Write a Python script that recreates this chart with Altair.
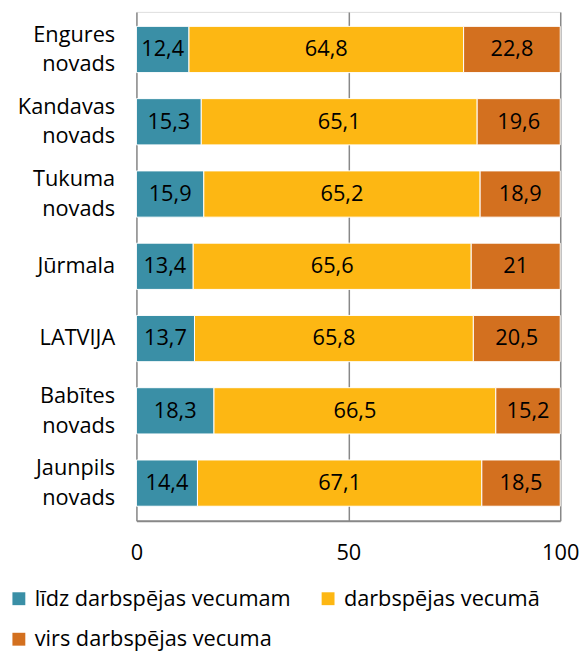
import altair as alt
import pandas as pd

regions = ["Engures novads", "Kandavas novads", "Tukuma novads", "Jūrmala",
           "LATVIJA", "Babītes novads", "Jaunpils novads"]
lidz = [12.4, 15.3, 15.9, 13.4, 13.7, 18.3, 14.4]
darb = [64.8, 65.1, 65.2, 65.6, 65.8, 66.5, 67.1]
virs = [22.8, 19.6, 18.9, 21.0, 20.5, 15.2, 18.5]
series = ["līdz darbspējas vecumam", "darbspējas vecumā", "virs darbspējas vecuma"]
colors = ["#3A8FA6", "#FDB713", "#D3701F"]

rows = []
for i, r in enumerate(regions):
    for j, (s, vals) in enumerate(zip(series, [lidz, darb, virs])):
        rows.append({"region": r, "series": s, "order": j, "value": vals[i]})
df = pd.DataFrame(rows)

FONT = "Open Sans"
FS = 22

base = alt.Chart(df).transform_stack(
    stack="value", as_=["x0", "x1"], groupby=["region"],
    sort=[alt.SortField("order", order="ascending")]
).transform_calculate(
    mid="(datum.x0 + datum.x1) / 2",
    lbl="replace(toString(datum.value), '.', ',')"
)

y_enc = alt.Y("region:N", sort=regions, title=None,
              scale=alt.Scale(paddingInner=0.36, paddingOuter=0.2),
              axis=alt.Axis(labelExpr="split(datum.label, ' ')", labelFont=FONT,
                            labelFontSize=FS, labelColor="#000000", labelPadding=22,
                            labelLineHeight=30, ticks=False, domain=False, labelAlign="right",
                            labelOffset={"condition": {"test": "indexof(datum.value, ' ') >= 0",
                                                       "value": -15}, "value": 0}))

bars = base.mark_bar(stroke="white", strokeWidth=1).encode(
    x=alt.X("x0:Q", scale=alt.Scale(domain=[0, 100], nice=False), title=None,
            axis=alt.Axis(values=[0, 50, 100], grid=True, gridColor="#888888", gridWidth=1.5,
                          domainColor="#888888", domainWidth=2, ticks=False,
                          labelFont=FONT, labelFontSize=FS, labelColor="#000000",
                          labelPadding=22, labelFlush=False)),
    x2="x1:Q",
    y=y_enc,
    color=alt.Color("series:N", sort=series,
                    scale=alt.Scale(domain=series, range=colors),
                    legend=alt.Legend(title=None, orient="none", legendX=-130, legendY=583,
                                      direction="horizontal", columns=2, symbolType="square",
                                      symbolSize=170, symbolStrokeWidth=0,
                                      labelFont=FONT, labelFontSize=FS, labelColor="#000000",
                                      labelLimit=0, columnPadding=26, rowPadding=19,
                                      labelOffset=5)),
)

text = base.mark_text(font=FONT, fontSize=FS, color="#000000").encode(
    x=alt.X("mid:Q"),
    y=alt.Y("region:N", sort=regions),
    text="lbl:N",
)

chart = (bars + text).properties(width=429, height=515, padding=0).configure_view(
    stroke=None).configure(background="white")

chart.save("out.html", embed_options={"renderer": "svg", "actions": False})
